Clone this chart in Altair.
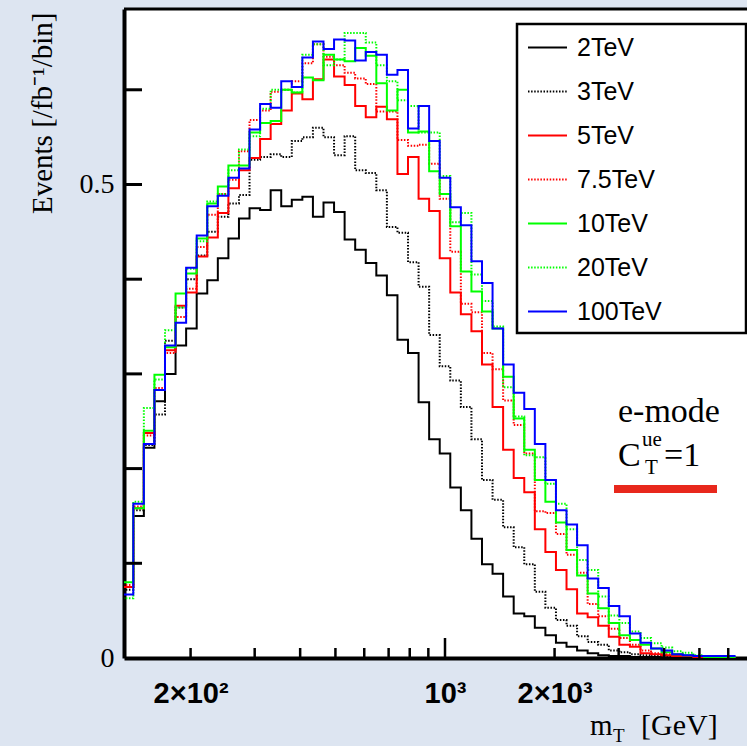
import altair as alt
import pandas as pd
import numpy as np

# ---------------- data ----------------
series_names = ["2TeV", "3TeV", "5TeV", "7.5TeV", "10TeV", "20TeV", "100TeV"]
series_colors = ["#000000", "#000000", "#ff0000", "#ff0000", "#00ff00", "#00ff00", "#0000ff"]
series_dashes = [[1, 0], [1.5, 1.6], [1, 0], [1.5, 1.6], [1, 0], [1.5, 1.6], [1, 0]]

# log-uniform binning in m_T (GeV)
log_first_edge = 2.1146
log_bin_width = 0.02903

v_2tev = [0.075, 0.150, 0.222, 0.271, 0.300, 0.330, 0.348, 0.385, 0.399, 0.422,
          0.443, 0.464, 0.475, 0.473, 0.494, 0.477, 0.484, 0.487, 0.466, 0.481,
          0.471, 0.442, 0.431, 0.417, 0.404, 0.383, 0.336, 0.322, 0.270, 0.231,
          0.216, 0.180, 0.156, 0.126, 0.099, 0.089, 0.065, 0.047, 0.044, 0.032,
          0.024, 0.016, 0.012, 0.008, 0.005, 0.003, 0.002, 0.002, 0.001, 0.001,
          0.001, 0.0005, 0.0, 0.0, 0.0, 0.0, 0.0, 0.0]
v_3tev = [0.072, 0.156, 0.225, 0.257, 0.335, 0.370, 0.400, 0.425, 0.450, 0.466,
          0.480, 0.489, 0.526, 0.529, 0.532, 0.529, 0.546, 0.550, 0.560, 0.550,
          0.531, 0.551, 0.515, 0.512, 0.494, 0.455, 0.449, 0.418, 0.392, 0.341,
          0.308, 0.293, 0.265, 0.231, 0.188, 0.167, 0.138, 0.117, 0.099, 0.070,
          0.053, 0.040, 0.034, 0.023, 0.017, 0.014, 0.008, 0.006, 0.004, 0.003,
          0.002, 0.002, 0.001, 0.001, 0.001, 0.0, 0.0, 0.0]
v_5tev = [0.075, 0.158, 0.2375, 0.283, 0.325, 0.372, 0.386, 0.424, 0.444, 0.470,
          0.496, 0.515, 0.528, 0.548, 0.564, 0.578, 0.596, 0.590, 0.611, 0.632,
          0.614, 0.605, 0.583, 0.571, 0.582, 0.569, 0.511, 0.529, 0.485, 0.472,
          0.422, 0.386, 0.363, 0.345, 0.310, 0.265, 0.220, 0.190, 0.175, 0.136,
          0.112, 0.093, 0.0725, 0.047, 0.043, 0.034, 0.0225, 0.014, 0.012, 0.005,
          0.004, 0.003, 0.002, 0.002, 0.001, 0.001, 0.001, 0.0]
v_7p5tev = [0.077, 0.160, 0.235, 0.285, 0.322, 0.360, 0.390, 0.434, 0.468, 0.490,
            0.505, 0.535, 0.568, 0.578, 0.598, 0.600, 0.609, 0.628, 0.648, 0.635,
            0.626, 0.618, 0.612, 0.606, 0.577, 0.577, 0.547, 0.541, 0.542, 0.522,
            0.485, 0.429, 0.374, 0.365, 0.322, 0.305, 0.272, 0.246, 0.216, 0.155,
            0.153, 0.131, 0.109, 0.090, 0.057, 0.044, 0.031, 0.021, 0.014, 0.008,
            0.005, 0.004, 0.003, 0.002, 0.001, 0.001, 0.0, 0.0]
v_10tev = [0.080, 0.158, 0.240, 0.299, 0.328, 0.385, 0.406, 0.443, 0.480, 0.498,
           0.520, 0.520, 0.555, 0.565, 0.567, 0.600, 0.597, 0.613, 0.610, 0.637,
           0.632, 0.630, 0.644, 0.636, 0.607, 0.578, 0.600, 0.555, 0.556, 0.514,
           0.490, 0.456, 0.408, 0.387, 0.366, 0.348, 0.297, 0.253, 0.220, 0.188,
           0.165, 0.143, 0.114, 0.087, 0.068, 0.0525, 0.037, 0.024, 0.019, 0.014,
           0.010, 0.006, 0.004, 0.003, 0.002, 0.001, 0.001, 0.001]
v_20tev = [0.063, 0.165, 0.264, 0.294, 0.346, 0.370, 0.411, 0.440, 0.482, 0.490,
           0.515, 0.537, 0.551, 0.580, 0.600, 0.600, 0.597, 0.637, 0.648, 0.626,
           0.632, 0.660, 0.660, 0.650, 0.626, 0.609, 0.589, 0.583, 0.555, 0.555,
           0.509, 0.460, 0.470, 0.405, 0.377, 0.350, 0.286, 0.255, 0.214, 0.212,
           0.184, 0.163, 0.136, 0.1035, 0.093, 0.065, 0.045, 0.037, 0.028, 0.021,
           0.0155, 0.011, 0.007, 0.0056, 0.003, 0.002, 0.002, 0.001]
v_100tev = [0.067, 0.163, 0.226, 0.283, 0.330, 0.354, 0.412, 0.446, 0.477, 0.488,
            0.507, 0.517, 0.558, 0.585, 0.581, 0.609, 0.603, 0.634, 0.651, 0.643,
            0.653, 0.652, 0.631, 0.640, 0.637, 0.616, 0.621, 0.559, 0.583, 0.546,
            0.507, 0.476, 0.457, 0.419, 0.396, 0.348, 0.310, 0.280, 0.263, 0.226,
            0.188, 0.156, 0.141, 0.119, 0.084, 0.074, 0.055, 0.044, 0.026, 0.016,
            0.010, 0.008, 0.004, 0.003, 0.002, 0.002, 0.002, 0.002]

series_values = [v_2tev, v_3tev, v_5tev, v_7p5tev, v_10tev, v_20tev, v_100tev]

x_tick_values = [200, 1000, 2000]
x_tick_labels = ["2\u00d710\u00b2", "10\u00b3", "2\u00d710\u00b3"]
x_minor_ticks = [200, 300, 400, 500, 600, 700, 800, 900, 2000, 3000, 4000, 5000, 6000]
x_major_ticks = [1000]
y_tick_values = [0.1, 0.2, 0.3, 0.4, 0.5, 0.6]
y_label_values = [0, 0.5]

# ---------------- geometry ----------------
W, H = 623, 649
x_domain = [10 ** 2.1181, 10 ** 3.8297]
y_domain = [0, 0.6853]

rows = []
for name, vals in zip(series_names, series_values):
    n = len(vals)
    edges = 10 ** (log_first_edge + log_bin_width * np.arange(n + 1))
    for i in range(n):
        rows.append({"series": name, "mT": edges[i], "value": vals[i]})
    rows.append({"series": name, "mT": edges[n], "value": vals[-1]})
df = pd.DataFrame(rows)

label_expr = " : ".join(
    f"datum.value == {v} ? '{t}'" for v, t in zip(x_tick_values[:-1], x_tick_labels[:-1])
) + f" : '{x_tick_labels[-1]}'"

x_enc = alt.X(
    "mT:Q",
    scale=alt.Scale(type="log", domain=x_domain, nice=False),
    axis=alt.Axis(values=x_tick_values, labelExpr=label_expr, ticks=False, grid=False,
                  domainWidth=4, domainColor="black", labelFont="Liberation Sans",
                  labelFontWeight="bold", labelFontSize=29, labelPadding=21,
                  labelColor="black", labelFlush=False, title=None),
)
y_enc = alt.Y(
    "value:Q",
    scale=alt.Scale(domain=y_domain, nice=False),
    axis=alt.Axis(values=y_label_values, format="~g", ticks=False, grid=False,
                  domainWidth=4, domainColor="black", labelFont="Liberation Serif",
                  labelFontSize=28, labelPadding=10, labelColor="black",
                  title="Events [/fb\u207b\u00b9/bin]", titleFont="Liberation Serif",
                  titleFontSize=29, titleFontWeight="normal", titleColor="black",
                  titleAngle=270, titleAlign="right", titleBaseline="middle",
                  titleX=-82, titleY=3),
)

legend = alt.Legend(orient="none", legendX=403, legendY=18, title=None,
                    symbolType="stroke", symbolSize=1521, symbolStrokeWidth=2,
                    labelFont="Liberation Sans", labelFontSize=25, labelColor="black",
                    labelOffset=9, rowPadding=10, padding=0, labelLimit=300)
color_enc = alt.Color("series:N", scale=alt.Scale(domain=series_names, range=series_colors),
                      legend=legend)
dash_enc = alt.StrokeDash("series:N", scale=alt.Scale(domain=series_names, range=series_dashes),
                          legend=legend)

layers = []
for name in series_names:
    layers.append(
        alt.Chart(df[df["series"] == name]).mark_line(
            interpolate="step-after", strokeWidth=2, clip=True
        ).encode(x=x_enc, y=y_enc, color=color_enc, strokeDash=dash_enc)
    )

one = pd.DataFrame({"k": [0]})
box = alt.Chart(one).mark_rect(fill="white", stroke="black", strokeWidth=2.5).encode(
    x=alt.value(393), x2=alt.value(622), y=alt.value(15), y2=alt.value(324))
top_line = alt.Chart(one).mark_rule(color="black", strokeWidth=3).encode(
    x=alt.value(0), x2=alt.value(W), y=alt.value(0))

yt = alt.Chart(pd.DataFrame({"value": y_tick_values})).mark_rule(color="black", strokeWidth=3).encode(
    y=alt.Y("value:Q"), x=alt.value(0), x2=alt.value(18))
xt_minor = alt.Chart(pd.DataFrame({"mT": x_minor_ticks})).mark_rule(color="black", strokeWidth=2.5).encode(
    x=alt.X("mT:Q"), y=alt.value(H), y2=alt.value(H - 10))
xt_major = alt.Chart(pd.DataFrame({"mT": x_major_ticks})).mark_rule(color="black", strokeWidth=2.5).encode(
    x=alt.X("mT:Q"), y=alt.value(H), y2=alt.value(H - 20))

def txt(s, x, y, size, font="Liberation Serif", align="left", color="black", weight="normal"):
    return alt.Chart(one).mark_text(text=s, font=font, fontSize=size, align=align,
                                    baseline="alphabetic", color=color, fontWeight=weight).encode(
        x=alt.value(x), y=alt.value(y))

annot = [
    txt("e-mode", 494, 413, 34),
    txt("C", 494, 457, 34),
    txt("ue", 518, 437, 21),
    txt("T", 521, 465, 21),
    txt("=1", 540, 457, 34),
    txt("m", 466, 726, 29),
    txt("T", 489, 733, 19),
    txt("[GeV]", 517, 726, 30),
]
bar = alt.Chart(one).mark_rect(color="#e8281c").encode(
    x=alt.value(490), x2=alt.value(593), y=alt.value(476), y2=alt.value(484))

chart = alt.layer(*layers, box, top_line, yt, xt_minor, xt_major, bar, *annot).properties(
    width=W, height=H,
    autosize=alt.AutoSizeParams(type="none"),
    padding={"left": 124, "top": 9, "right": 0, "bottom": 88},
    background="#dde5f1",
).configure_view(fill="white", stroke=None)

chart.save("out.html", embed_options={"renderer": "svg", "actions": False})
